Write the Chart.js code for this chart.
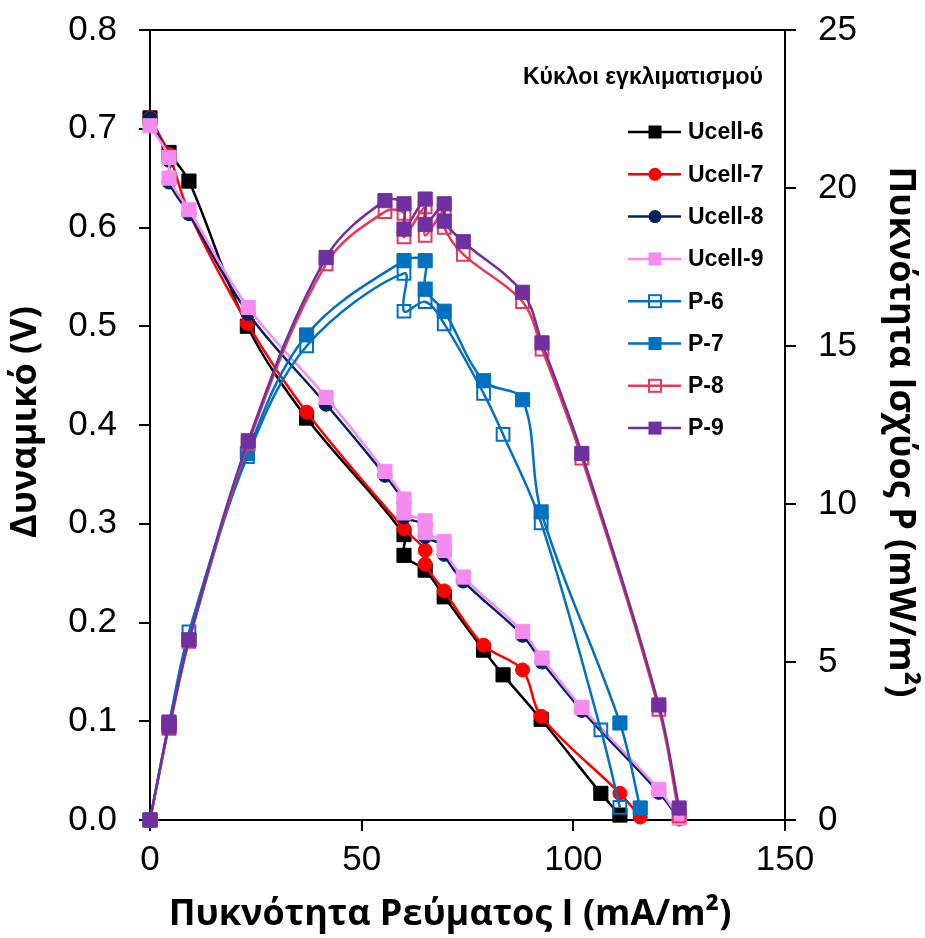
<!DOCTYPE html>
<html>
<head>
<meta charset="utf-8">
<title>Καμπύλες πόλωσης και ισχύος</title>
<script src="https://cdn.jsdelivr.net/npm/chart.js@4.4.1/dist/chart.umd.min.js"></script>
<style>
  html, body { margin: 0; padding: 0; background: #fff; }
  .chart-box { width: 925px; height: 938px; position: relative; }
</style>
</head>
<body>
<div class="chart-box"><canvas id="polChart"></canvas></div>
<script>
// current density I (mA/m2) for each conditioning cycle
const current6 = [0, 4.5, 9.2, 23, 37, 60, 60, 65, 69.5, 78.8, 83.4, 92.4, 106.5, 111];
const current7 = [0, 4.5, 9.2, 23, 37, 60, 65, 65, 69.5, 78.8, 88, 92.4, 111, 115.8];
const current8 = [0, 4.5, 4.5, 9.2, 23.2, 41.6, 55.5, 60, 60, 65, 65, 69.5, 69.5, 74, 88, 92.6, 102, 120.2, 125];
const current9 = [0, 4.5, 4.5, 9.2, 23.2, 41.6, 55.5, 60, 60, 65, 65, 69.5, 69.5, 74, 88, 92.6, 102, 120.2, 125];

// cell voltage (V)
const ucell6 = [0.711, 0.676, 0.647, 0.500, 0.407, 0.289, 0.268, 0.253, 0.226, 0.172, 0.147, 0.102, 0.027, 0.005];
const ucell7 = [0.711, 0.674, 0.615, 0.503, 0.413, 0.295, 0.273, 0.259, 0.232, 0.177, 0.152, 0.105, 0.027, 0.003];
const ucell8 = [0.710, 0.668, 0.646, 0.614, 0.513, 0.421, 0.349, 0.321, 0.307, 0.299, 0.287, 0.278, 0.269, 0.242, 0.187, 0.160, 0.111, 0.028, 0.001];
const ucell9 = [0.703, 0.671, 0.650, 0.618, 0.519, 0.428, 0.353, 0.325, 0.311, 0.303, 0.291, 0.282, 0.273, 0.246, 0.191, 0.164, 0.114, 0.031, 0.002];

// power density P (mW/m2)
const power6 = [0, 3.04, 5.95, 11.5, 15.0, 17.3, 16.1, 16.4, 15.7, 13.5, 12.2, 9.4, 2.85, 0.4];
const power7 = [0, 3.05, 5.7, 11.6, 15.35, 17.7, 17.7, 16.8, 16.1, 13.9, 13.3, 9.75, 3.07, 0.38];
const power8 = [0, 3.0, 2.9, 5.65, 11.9, 17.6, 19.25, 19.2, 18.45, 19.4, 18.5, 19.3, 18.75, 17.9, 16.4, 14.9, 11.45, 3.5, 0.13];
const power9 = [0, 3.1, 2.95, 5.7, 12.0, 17.8, 19.6, 19.5, 18.7, 19.65, 18.85, 19.5, 18.95, 18.3, 16.7, 15.1, 11.6, 3.64, 0.38];

const xTicks = [0, 50, 100, 150];
const legendTitle = "Κύκλοι εγκλιματισμού";
const xTitle = "Πυκνότητα Ρεύματος I (mA/m²)";
const yTitle = "Δυναμικό (V)";
const y2Title = "Πυκνότητα Ισχύος P (mW/m²)";

function toPoints(xs, ys) {
  return xs.map((x, i) => ({ x: x, y: ys[i] }));
}

function makeSeries(label, xs, ys, axis, color, shape, hollow) {
  const isCircle = shape === "circle";
  return {
    label: label,
    data: toPoints(xs, ys),
    yAxisID: axis,
    borderColor: color,
    borderWidth: 2.5,
    tension: 0.35,
    pointStyle: shape,
    pointRadius: isCircle ? 7 : (hollow ? 9 : 10),
    pointBorderWidth: hollow ? 2 : 1,
    pointBorderColor: color,
    pointBackgroundColor: hollow ? "rgba(0,0,0,0)" : color,
    hollow: hollow,
    clip: false
  };
}

const seriesList = [
  makeSeries("Ucell-6", current6, ucell6, "y", "#000000", "rect", false),
  makeSeries("Ucell-7", current7, ucell7, "y", "#ff0000", "circle", false),
  makeSeries("Ucell-8", current8, ucell8, "y", "#002060", "circle", false),
  makeSeries("Ucell-9", current9, ucell9, "y", "#f78cf0", "rect", false),
  makeSeries("P-6", current6, power6, "y2", "#0070c0", "rect", true),
  makeSeries("P-7", current7, power7, "y2", "#0070c0", "rect", false),
  makeSeries("P-8", current8, power8, "y2", "#e8385a", "rect", true),
  makeSeries("P-9", current9, power9, "y2", "#7030a0", "rect", false)
];
// later series sit on top, like the original
seriesList.forEach((s, i) => { s.order = seriesList.length - i; });

const tickFont = { family: "'Liberation Sans', Arial, sans-serif", size: 35 };
const titleFont = "bold 36px 'Open Sans', sans-serif";

const frameAndText = {
  id: "frameAndText",
  afterDraw(chart) {
    const ctx = chart.ctx;
    const area = chart.chartArea;
    ctx.save();

    // top border
    ctx.strokeStyle = "#000";
    ctx.lineWidth = 2;
    ctx.beginPath();
    ctx.moveTo(area.left, area.top);
    ctx.lineTo(area.right, area.top);
    ctx.stroke();

    // axis titles
    ctx.fillStyle = "#000";
    ctx.font = titleFont;
    ctx.textAlign = "center";
    ctx.textBaseline = "middle";
    ctx.fillText(xTitle, 450, 915);

    ctx.save();
    ctx.translate(26, 422);
    ctx.rotate(-Math.PI / 2);
    ctx.fillText(yTitle, 0, 0);
    ctx.restore();

    ctx.save();
    ctx.translate(900, 432);
    ctx.rotate(Math.PI / 2);
    ctx.fillText(y2Title, 0, 0);
    ctx.restore();

    // legend
    ctx.font = "bold 23px 'Liberation Sans', Arial, sans-serif";
    ctx.fillText(legendTitle, 643, 78);

    ctx.textAlign = "left";
    chart.data.datasets.forEach((ds, i) => {
      const y = 132 + i * 42.3;
      ctx.strokeStyle = ds.borderColor;
      ctx.lineWidth = 2.5;
      ctx.beginPath();
      ctx.moveTo(628, y);
      ctx.lineTo(681, y);
      ctx.stroke();

      ctx.lineWidth = ds.hollow ? 2 : 1;
      ctx.fillStyle = ds.borderColor;
      if (ds.pointStyle === "circle") {
        ctx.beginPath();
        ctx.arc(655, y, 6.5, 0, Math.PI * 2);
        ctx.fill();
      } else if (ds.hollow) {
        ctx.strokeRect(649, y - 6, 12, 12);
      } else {
        ctx.fillRect(648.5, y - 6.5, 13, 13);
      }
      ctx.fillStyle = "#000";
      ctx.fillText(ds.label, 688, y + 1);
    });
    ctx.restore();
  }
};

function axisLine() {
  return { display: true, color: "#000", width: 2 };
}

function axisGrid() {
  return { drawOnChartArea: false, drawTicks: true, tickLength: 11, color: "#000", lineWidth: 2 };
}

// fixed box sizes so the plot area lands where the original has it
function fitVertical(width) {
  return (scale) => {
    scale.width = width;
    scale.paddingTop = 0;
    scale.paddingBottom = 0;
  };
}

new Chart(document.getElementById("polChart"), {
  type: "line",
  data: { datasets: seriesList },
  options: {
    responsive: true,
    maintainAspectRatio: false,
    animation: false,
    layout: { padding: { top: 30, left: 0, right: 0, bottom: 0 } },
    plugins: {
      legend: { display: false },
      tooltip: { enabled: false }
    },
    scales: {
      x: {
        type: "linear",
        min: 0,
        max: 150,
        border: axisLine(),
        grid: axisGrid(),
        afterBuildTicks: (scale) => { scale.ticks = xTicks.map(v => ({ value: v })); },
        ticks: { color: "#000", font: tickFont, padding: 8, maxRotation: 0 },
        afterFit: (scale) => {
          scale.height = 118;
          scale.paddingLeft = 0;
          scale.paddingRight = 0;
        }
      },
      y: {
        position: "left",
        min: 0,
        max: 0.8,
        border: axisLine(),
        grid: axisGrid(),
        ticks: {
          stepSize: 0.1,
          color: "#000",
          font: tickFont,
          padding: 22,
          callback: (v) => Number(v).toFixed(1)
        },
        afterFit: fitVertical(150)
      },
      y2: {
        position: "right",
        min: 0,
        max: 25,
        border: axisLine(),
        grid: axisGrid(),
        ticks: { stepSize: 5, color: "#000", font: tickFont, padding: 22 },
        afterFit: fitVertical(140)
      }
    }
  },
  plugins: [frameAndText]
});
</script>
</body>
</html>
